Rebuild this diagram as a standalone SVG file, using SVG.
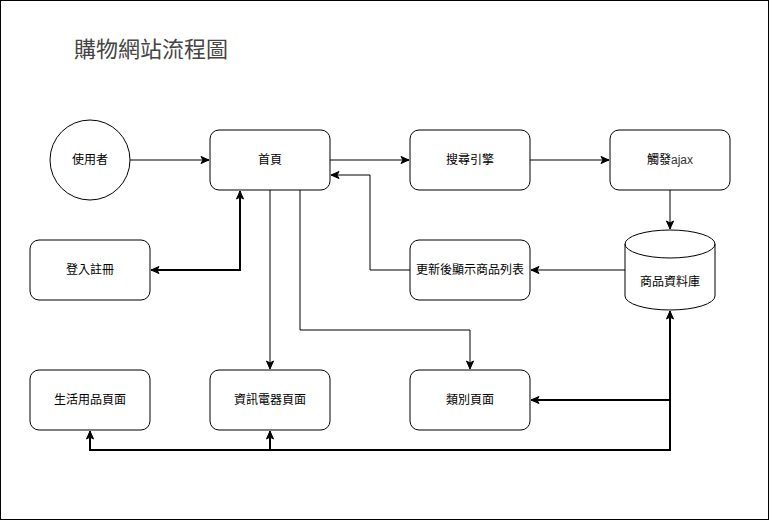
<svg xmlns="http://www.w3.org/2000/svg" width="772" height="521" viewBox="0 0 772 521">
<style>
.box{fill:#fff;stroke:#000;stroke-width:1}
.t{font-family:"Liberation Sans","Noto Sans CJK TC",sans-serif;font-size:12px;fill:#000;text-anchor:middle;dominant-baseline:central}
.e{fill:none;stroke:#000;stroke-width:1}
.eb{fill:none;stroke:#000;stroke-width:2}
</style>
<defs>
<marker id="a" markerUnits="userSpaceOnUse" markerWidth="10" markerHeight="10" viewBox="0 0 10 10" refX="9" refY="5" orient="auto-start-reverse">
<path d="M1,1.5 L9,5 L1,8.5 L3,5 Z" fill="#000" stroke="#000" stroke-width="1"/>
</marker>
</defs>
<rect x="0.5" y="0.5" width="768" height="519" fill="#fff" stroke="#000" stroke-width="1"/>
<text x="74" y="57" font-family="'Noto Sans CJK TC',sans-serif" font-size="22" fill="#444">購物網站流程圖</text>

<g id="connectors">
<path class="e" d="M130,160 L209,160" marker-end="url(#a)"/>
<path class="e" d="M330,160 L409,160" marker-end="url(#a)"/>
<path class="e" d="M530,160 L609,160" marker-end="url(#a)"/>
<path class="e" d="M670,190 L670,229" marker-end="url(#a)"/>
<path class="e" d="M625,270 L531,270" marker-end="url(#a)"/>
<path class="e" d="M410,270 L370,270 L370,175 L331,175" marker-end="url(#a)"/>
<path class="eb" d="M240,191 L240,270 L151,270" marker-start="url(#a)" marker-end="url(#a)"/>
<path class="e" d="M270,190 L270,369" marker-end="url(#a)"/>
<path class="e" d="M300,190 L300,330 L470,330 L470,369" marker-end="url(#a)"/>
<path class="eb" d="M670,311 L670,400 L531,400" marker-start="url(#a)" marker-end="url(#a)"/>
<path class="eb" d="M670,400 L670,450 L90,450 L90,431" marker-end="url(#a)"/>
<path class="eb" d="M270,450 L270,431" marker-end="url(#a)"/>
</g>

<g id="user"><circle class="box" cx="90" cy="160" r="40"/><text class="t" x="90" y="160">使用者</text></g>
<g id="home"><rect class="box" x="210" y="130" width="120" height="60" rx="9"/><text class="t" x="270" y="160">首頁</text></g>
<g id="search"><rect class="box" x="410" y="130" width="120" height="60" rx="9"/><text class="t" x="470" y="160">搜尋引擎</text></g>
<g id="ajax"><rect class="box" x="610" y="130" width="120" height="60" rx="9"/><text class="t" x="670" y="160">觸發<tspan fill="#333">ajax</tspan></text></g>
<g id="db"><path class="box" d="M625,244 A45,14 0 0 1 715,244 L715,296 A45,14 0 0 1 625,296 Z"/><path class="e" d="M625,244 A45,14 0 0 0 715,244"/><text class="t" x="670" y="282">商品資料庫</text></g>
<g id="update"><rect class="box" x="410" y="240" width="120" height="60" rx="9"/><text class="t" x="470" y="270">更新後顯示商品列表</text></g>
<g id="login"><rect class="box" x="30" y="240" width="120" height="60" rx="9"/><text class="t" x="90" y="270">登入註冊</text></g>
<g id="daily"><rect class="box" x="30" y="370" width="120" height="60" rx="9"/><text class="t" x="90" y="400">生活用品頁面</text></g>
<g id="elec"><rect class="box" x="210" y="370" width="120" height="60" rx="9"/><text class="t" x="270" y="400">資訊電器頁面</text></g>
<g id="category"><rect class="box" x="410" y="370" width="120" height="60" rx="9"/><text class="t" x="470" y="400">類別頁面</text></g>
</svg>
